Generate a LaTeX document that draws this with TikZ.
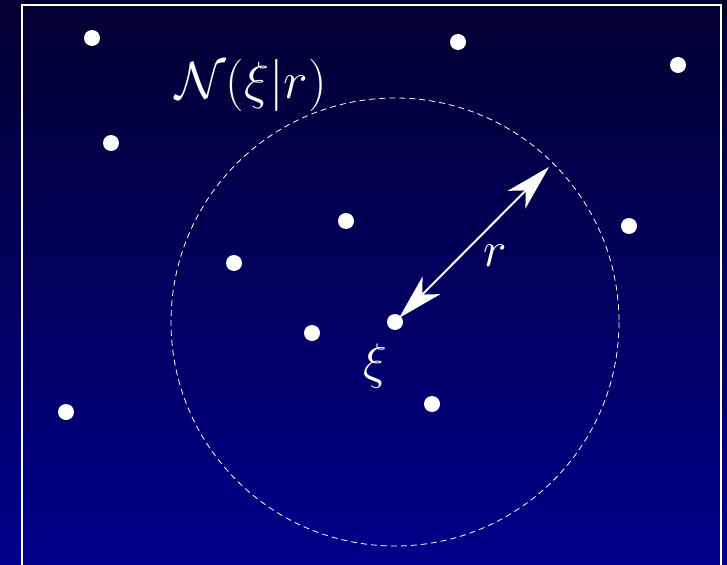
\documentclass[tikz,border=0pt]{standalone}
\usetikzlibrary{arrows.meta}
\begin{document}
\begin{tikzpicture}[x=1pt,y=-1pt,
  dot/.style={circle,fill=white,inner sep=0pt,minimum size=16pt},
  lbl/.style={text=white,inner sep=0pt,font=\Huge,scale=2.01},
  myhead/.tip={Stealth[length=46pt,width=25pt,inset=13pt]}]
\definecolor{bgtop}{RGB}{2,0,48}
\definecolor{bgbot}{RGB}{0,0,138}
\useasboundingbox (0,0) rectangle (727,564);
\shade[top color=bgtop,bottom color=bgbot] (0,0) rectangle (727,564);
\clip (0,0) rectangle (727,564);
\draw[white,line width=2pt] (22,580) -- (22,5) -- (721,5) -- (721,580);
\coordinate (c) at (395,322);
\draw[white,line width=0.8pt,dash pattern=on 6pt off 4pt] (c) circle[radius=224];
\coordinate (tipin) at (399,318);
\coordinate (rim) at (549,167);
\node[dot] (xi) at (c) {};
\foreach \p/\n in {{(92,38)}/a,{(458,42)}/b,{(678,65)}/d,{(111,143)}/e,{(346,221)}/f,{(629,226)}/g,{(234,263)}/h,{(312,333)}/i,{(432,404)}/j,{(66,412)}/k}
  \node[dot] (\n) at \p {};
\draw[white,line width=2pt,{myhead}-{myhead}] (tipin) -- (rim);
\node[lbl,scale=1.045] (N) at (251,85) {$\mathcal{N}(\xi|r)$};
\node[lbl] (xil) at (375,366) {$\xi$};
\node[lbl] (rl) at (495,256) {$r$};
\end{tikzpicture}
\end{document}
